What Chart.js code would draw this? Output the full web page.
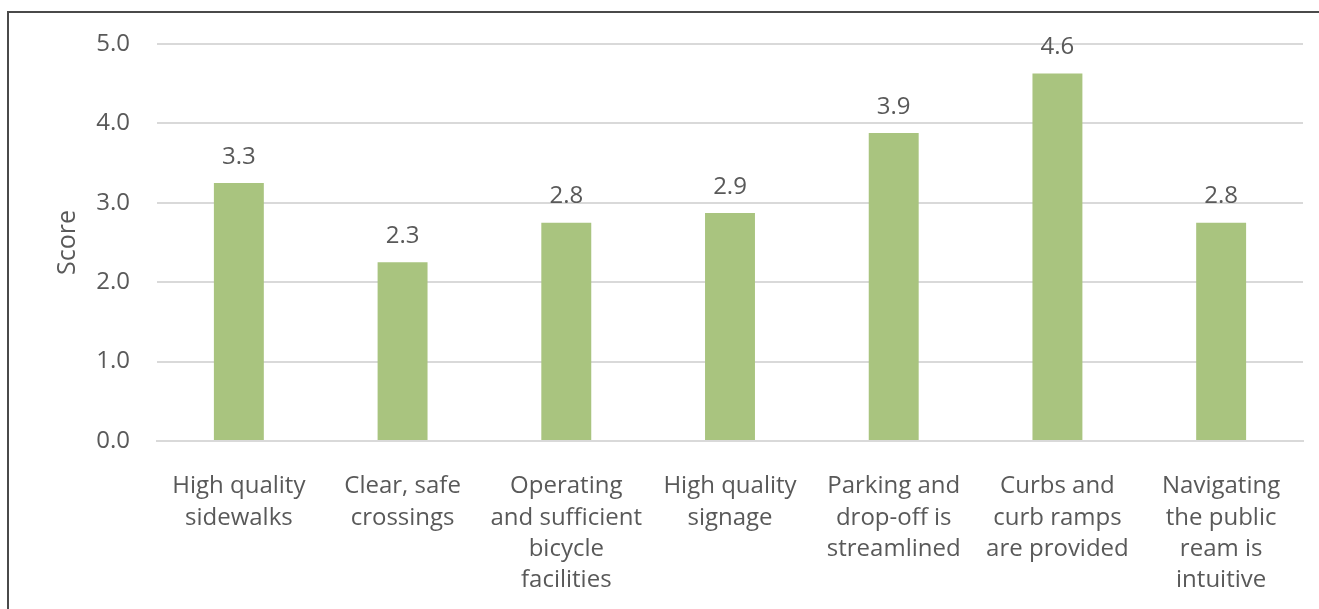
<!DOCTYPE html>
<html>
<head>
<meta charset="utf-8">
<script src="https://cdn.jsdelivr.net/npm/chart.js@4.4.1/dist/chart.umd.min.js"></script>
<style>
  html, body { margin: 0; padding: 0; background: #fff; }
  #wrap { position: relative; width: 1319px; height: 609px; overflow: hidden; }
  #frame {
    position: absolute; left: 7px; top: 11px; right: -10px; bottom: -10px;
    border-top: 2px solid #4a4a4a; border-left: 2px solid #4a4a4a;
  }
  canvas { position: absolute; left: 0; top: 0; }
</style>
</head>
<body>
<div id="wrap">
  <div id="frame"></div>
  <canvas id="chart" width="1319" height="609"></canvas>
</div>
<script>
const categories = [
  ["High quality", "sidewalks"],
  ["Clear, safe", "crossings"],
  ["Operating", "and sufficient", "bicycle", "facilities"],
  ["High quality", "signage"],
  ["Parking and", "drop-off is", "streamlined"],
  ["Curbs and", "curb ramps", "are provided"],
  ["Navigating", "the public", "ream is", "intuitive"]
];
const scores = [3.25, 2.25, 2.75, 2.87, 3.88, 4.63, 2.75];
const yTicks = [0, 1, 2, 3, 4, 5];

const FONT = "'Open Sans', sans-serif";
const TEXT = "#595959";

// value labels above each bar
const barLabels = {
  id: "barLabels",
  afterDatasetsDraw(chart) {
    const ctx = chart.ctx;
    const meta = chart.getDatasetMeta(0);
    ctx.save();
    ctx.font = "24px " + FONT;
    ctx.fillStyle = TEXT;
    ctx.textAlign = "center";
    ctx.textBaseline = "middle";
    meta.data.forEach((bar, i) => {
      const v = Math.round(scores[i] * 10) / 10;
      ctx.fillText(v.toFixed(1), bar.x, bar.y - 26);
    });
    ctx.restore();
  }
};

new Chart(document.getElementById("chart"), {
  type: "bar",
  data: {
    labels: categories,
    datasets: [{
      data: scores,
      backgroundColor: "#a9c47f",
      categoryPercentage: 1,
      barPercentage: 0.305
    }]
  },
  options: {
    responsive: false,
    animation: false,
    layout: { padding: { top: 44, right: 16, left: 0, bottom: 0 } },
    plugins: {
      legend: { display: false },
      tooltip: { enabled: false }
    },
    scales: {
      x: {
        grid: { display: false },
        border: { display: true, color: "#d9d9d9", width: 2 },
        ticks: {
          color: TEXT,
          font: { family: FONT, size: 24, lineHeight: 1.3 },
          padding: 22,
          maxRotation: 0,
          autoSkip: false
        },
        afterFit(axis) { axis.height = 168; }
      },
      y: {
        min: 0,
        max: 5,
        afterBuildTicks(axis) { axis.ticks = yTicks.map(v => ({ value: v })); },
        grid: { color: "#d9d9d9", lineWidth: 2, drawTicks: false },
        border: { display: false },
        ticks: {
          color: TEXT,
          font: { family: FONT, size: 24 },
          padding: 27,
          callback: v => Number(v).toFixed(1)
        },
        title: {
          display: true,
          text: "Score",
          color: TEXT,
          font: { family: FONT, size: 25 },
          padding: { top: 53, bottom: 0 }
        },
        afterFit(axis) { axis.width = 157; }
      }
    }
  },
  plugins: [barLabels]
});
</script>
</body>
</html>
